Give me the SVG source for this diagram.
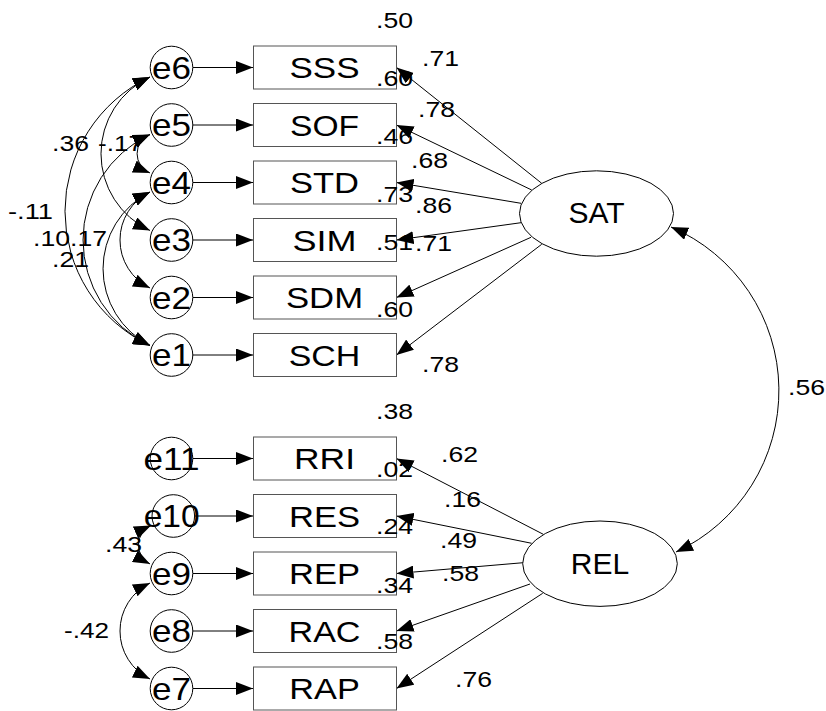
<svg xmlns="http://www.w3.org/2000/svg" width="826" height="711" viewBox="0 0 826 711">
<style>
  .box{fill:#fff;stroke:#555;stroke-width:1}
  .err{fill:#fff;stroke:#000;stroke-width:1}
  .lat{fill:#fff;stroke:#000;stroke-width:1}
  .con{fill:none;stroke:#000;stroke-width:1}
  .arr{marker-end:url(#ah)}
  .dbl{marker-start:url(#ah);marker-end:url(#ah)}
  text{font-family:"Liberation Sans",Arial,sans-serif;fill:#000}
  .bl{font-size:30px;text-anchor:middle}
  .el{font-size:32px;text-anchor:middle}
  .num{font-size:22px}
</style>
<defs>
  <marker id="ah" viewBox="0 0 17 13" refX="17" refY="6.5" markerWidth="17" markerHeight="13" markerUnits="userSpaceOnUse" orient="auto-start-reverse">
    <path d="M0,0 L17,6.5 L0,13 z" fill="#000"/>
  </marker>
</defs>
<rect width="826" height="711" fill="#fff"/>

<g id="connectors">
  <!-- error to indicator -->
  <path class="con arr" d="M193,67.5 L253,67.5"/>
  <path class="con arr" d="M193,125 L253,125"/>
  <path class="con arr" d="M193,182.5 L253,182.5"/>
  <path class="con arr" d="M193,240 L253,240"/>
  <path class="con arr" d="M193,297.5 L253,297.5"/>
  <path class="con arr" d="M193,355 L253,355"/>
  <path class="con arr" d="M193,458.5 L253,458.5"/>
  <path class="con arr" d="M195,516 L253,516"/>
  <path class="con arr" d="M193,573.5 L253,573.5"/>
  <path class="con arr" d="M193,631 L253,631"/>
  <path class="con arr" d="M193,688.5 L253,688.5"/>
  <!-- SAT loadings -->
  <path class="con arr" d="M541.7,183.3 L396.5,67.5"/>
  <path class="con arr" d="M531.7,190 L396.5,125"/>
  <path class="con arr" d="M521,203.3 L396.5,182.5"/>
  <path class="con arr" d="M521,222.7 L396.5,240"/>
  <path class="con arr" d="M531,237.3 L396.5,297.5"/>
  <path class="con arr" d="M541.7,244.3 L396.5,355"/>
  <!-- REL loadings -->
  <path class="con arr" d="M543.3,534.3 L396.5,458.5"/>
  <path class="con arr" d="M531.7,543.3 L396.5,516"/>
  <path class="con arr" d="M523.3,562.7 L396.5,573.5"/>
  <path class="con arr" d="M530,584 L396.5,631"/>
  <path class="con arr" d="M542.7,593.3 L396.5,688.5"/>
  <!-- error covariances -->
  <path class="con dbl" d="M150,77 A148.5,148.5 0 0 0 150,345.5"/>
  <path class="con dbl" d="M150,77 A84.6,84.6 0 0 0 150,230.5"/>
  <path class="con dbl" d="M150,134.5 A116.6,116.6 0 0 0 150,345.5"/>
  <path class="con dbl" d="M150,134.5 A20.8,20.8 0 0 0 150,173"/>
  <path class="con dbl" d="M150,192 A86.2,86.2 0 0 0 150,345.5"/>
  <path class="con dbl" d="M150,192 A53.4,53.4 0 0 0 150,288"/>
  <path class="con dbl" d="M151,525.5 A21.4,21.4 0 0 0 150,564"/>
  <path class="con dbl" d="M150,583 A53.4,53.4 0 0 0 150,679"/>
  <!-- latent covariance -->
  <path class="con dbl" d="M671,227 A178,178 0 0 1 676,552"/>
</g>

<g id="e1"><circle class="err" cx="171.5" cy="355" r="21.3"/><text class="el" x="171.5" y="366.3" textLength="39" lengthAdjust="spacingAndGlyphs">e1</text></g>
<g id="e2"><circle class="err" cx="171.5" cy="297.5" r="21.3"/><text class="el" x="171.5" y="308.8" textLength="39" lengthAdjust="spacingAndGlyphs">e2</text></g>
<g id="e3"><circle class="err" cx="171.5" cy="240" r="21.3"/><text class="el" x="171.5" y="251.3" textLength="39" lengthAdjust="spacingAndGlyphs">e3</text></g>
<g id="e4"><circle class="err" cx="171.5" cy="182.5" r="21.3"/><text class="el" x="171.5" y="193.8" textLength="39" lengthAdjust="spacingAndGlyphs">e4</text></g>
<g id="e5"><circle class="err" cx="171.5" cy="125" r="21.3"/><text class="el" x="171.5" y="136.3" textLength="39" lengthAdjust="spacingAndGlyphs">e5</text></g>
<g id="e6"><circle class="err" cx="171.5" cy="67.5" r="21.3"/><text class="el" x="171.5" y="78.8" textLength="39" lengthAdjust="spacingAndGlyphs">e6</text></g>
<g id="e11"><circle class="err" cx="171.5" cy="458.5" r="21.3"/><text class="el" x="171.5" y="469.8" textLength="56" lengthAdjust="spacingAndGlyphs">e11</text></g>
<g id="e10"><circle class="err" cx="173.3" cy="516" r="21.3"/><text class="el" x="171.7" y="527.3" textLength="56" lengthAdjust="spacingAndGlyphs">e10</text></g>
<g id="e9"><circle class="err" cx="171.5" cy="573.5" r="21.3"/><text class="el" x="171.5" y="584.8" textLength="39" lengthAdjust="spacingAndGlyphs">e9</text></g>
<g id="e8"><circle class="err" cx="171.5" cy="631" r="21.3"/><text class="el" x="171.5" y="642.3" textLength="39" lengthAdjust="spacingAndGlyphs">e8</text></g>
<g id="e7"><circle class="err" cx="171.5" cy="688.5" r="21.3"/><text class="el" x="171.5" y="699.8" textLength="39" lengthAdjust="spacingAndGlyphs">e7</text></g>

<g id="SSS"><rect class="box" x="253.5" y="46" width="143" height="43"/><text class="bl" x="324.5" y="78" textLength="70" lengthAdjust="spacingAndGlyphs">SSS</text></g>
<g id="SOF"><rect class="box" x="253.5" y="103.5" width="143" height="43"/><text class="bl" x="324.5" y="135.5" textLength="69" lengthAdjust="spacingAndGlyphs">SOF</text></g>
<g id="STD"><rect class="box" x="253.5" y="161" width="143" height="43"/><text class="bl" x="324.5" y="193" textLength="69" lengthAdjust="spacingAndGlyphs">STD</text></g>
<g id="SIM"><rect class="box" x="253.5" y="218.5" width="143" height="43"/><text class="bl" x="324.5" y="250.5" textLength="64" lengthAdjust="spacingAndGlyphs">SIM</text></g>
<g id="SDM"><rect class="box" x="253.5" y="276" width="143" height="43"/><text class="bl" x="324.5" y="308" textLength="77" lengthAdjust="spacingAndGlyphs">SDM</text></g>
<g id="SCH"><rect class="box" x="253.5" y="333.5" width="143" height="43"/><text class="bl" x="324.5" y="365.5" textLength="71.5" lengthAdjust="spacingAndGlyphs">SCH</text></g>
<g id="RRI"><rect class="box" x="253.5" y="437" width="143" height="43"/><text class="bl" x="324.5" y="469" textLength="61" lengthAdjust="spacingAndGlyphs">RRI</text></g>
<g id="RES"><rect class="box" x="253.5" y="494.5" width="143" height="43"/><text class="bl" x="324.5" y="526.5" textLength="71" lengthAdjust="spacingAndGlyphs">RES</text></g>
<g id="REP"><rect class="box" x="253.5" y="552" width="143" height="43"/><text class="bl" x="324.5" y="584" textLength="71" lengthAdjust="spacingAndGlyphs">REP</text></g>
<g id="RAC"><rect class="box" x="253.5" y="609.5" width="143" height="43"/><text class="bl" x="324.5" y="641.5" textLength="72" lengthAdjust="spacingAndGlyphs">RAC</text></g>
<g id="RAP"><rect class="box" x="253.5" y="667" width="143" height="43"/><text class="bl" x="324.5" y="699" textLength="70.5" lengthAdjust="spacingAndGlyphs">RAP</text></g>

<g id="SAT"><ellipse class="lat" cx="596.5" cy="213.5" rx="77" ry="42.7"/><text class="bl" x="596.5" y="223">SAT</text></g>
<g id="REL"><ellipse class="lat" cx="600" cy="563.7" rx="77.3" ry="42.7"/><text class="bl" x="600" y="574">REL</text></g>

<g id="labels" class="num">
  <text x="376" y="28" textLength="37" lengthAdjust="spacingAndGlyphs">.50</text>
  <text x="422" y="66" textLength="37" lengthAdjust="spacingAndGlyphs">.71</text>
  <text x="376" y="86" textLength="37" lengthAdjust="spacingAndGlyphs">.60</text>
  <text x="418" y="117" textLength="37" lengthAdjust="spacingAndGlyphs">.78</text>
  <text x="376" y="144" textLength="37" lengthAdjust="spacingAndGlyphs">.46</text>
  <text x="411" y="168" textLength="37" lengthAdjust="spacingAndGlyphs">.68</text>
  <text x="376" y="202" textLength="37" lengthAdjust="spacingAndGlyphs">.73</text>
  <text x="415" y="213" textLength="37" lengthAdjust="spacingAndGlyphs">.86</text>
  <text x="376" y="250" textLength="37" lengthAdjust="spacingAndGlyphs">.51</text>
  <text x="415" y="251" textLength="37" lengthAdjust="spacingAndGlyphs">.71</text>
  <text x="376" y="317" textLength="37" lengthAdjust="spacingAndGlyphs">.60</text>
  <text x="422" y="372" textLength="37" lengthAdjust="spacingAndGlyphs">.78</text>
  <text x="376" y="419" textLength="37" lengthAdjust="spacingAndGlyphs">.38</text>
  <text x="441" y="462" textLength="37" lengthAdjust="spacingAndGlyphs">.62</text>
  <text x="376" y="477" textLength="37" lengthAdjust="spacingAndGlyphs">.02</text>
  <text x="444" y="507" textLength="37" lengthAdjust="spacingAndGlyphs">.16</text>
  <text x="376" y="534" textLength="37" lengthAdjust="spacingAndGlyphs">.24</text>
  <text x="440" y="548" textLength="37" lengthAdjust="spacingAndGlyphs">.49</text>
  <text x="376" y="593" textLength="37" lengthAdjust="spacingAndGlyphs">.34</text>
  <text x="442" y="581" textLength="37" lengthAdjust="spacingAndGlyphs">.58</text>
  <text x="376" y="649" textLength="37" lengthAdjust="spacingAndGlyphs">.58</text>
  <text x="455" y="687" textLength="37" lengthAdjust="spacingAndGlyphs">.76</text>
  <text x="52" y="151" textLength="37" lengthAdjust="spacingAndGlyphs">.36</text>
  <text x="98" y="151" textLength="45" lengthAdjust="spacingAndGlyphs">-.17</text>
  <text x="8" y="219" textLength="45" lengthAdjust="spacingAndGlyphs">-.11</text>
  <text x="33" y="246" textLength="37" lengthAdjust="spacingAndGlyphs">.10</text>
  <text x="70" y="246" textLength="37" lengthAdjust="spacingAndGlyphs">.17</text>
  <text x="52" y="267" textLength="37" lengthAdjust="spacingAndGlyphs">.21</text>
  <text x="105" y="552" textLength="37" lengthAdjust="spacingAndGlyphs">.43</text>
  <text x="64" y="638" textLength="45" lengthAdjust="spacingAndGlyphs">-.42</text>
  <text x="788" y="395" textLength="37" lengthAdjust="spacingAndGlyphs">.56</text>
</g>
</svg>
